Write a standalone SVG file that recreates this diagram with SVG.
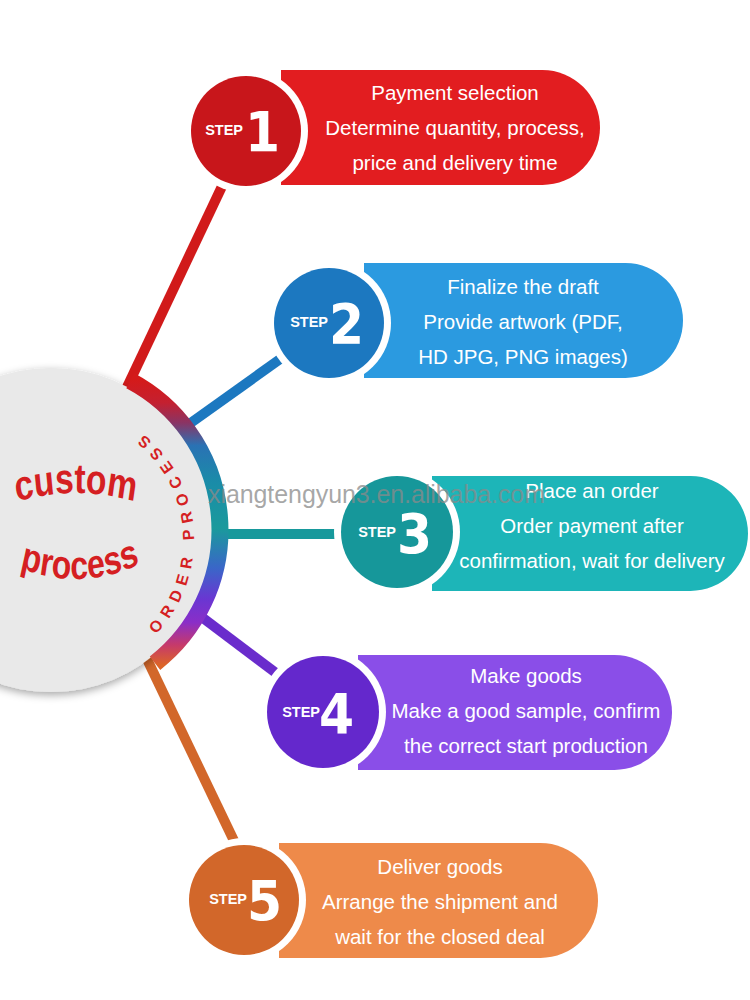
<svg xmlns="http://www.w3.org/2000/svg" width="750" height="1000" viewBox="0 0 750 1000">
<defs>
<style>
.pt{font-family:"Liberation Sans",Arial,sans-serif;font-size:20.5px;fill:#fff;text-anchor:middle}
.st{font-family:"Liberation Sans",Arial,sans-serif;font-size:14.5px;font-weight:bold;fill:#fff;text-anchor:end}
.num{font-family:"DejaVu Sans Condensed","DejaVu Sans",sans-serif;font-size:56px;font-weight:bold;fill:#fff}
.ring{fill:#fff}
.conn{stroke-width:10;fill:none;stroke-linecap:butt}
.big{font-family:"Liberation Sans",Arial,sans-serif;font-weight:bold;fill:#d51f22;text-anchor:middle}
</style>
<linearGradient id="band" gradientUnits="userSpaceOnUse" x1="0" y1="380" x2="0" y2="665">
<stop offset="0" stop-color="#d41a1a"/>
<stop offset="0.08" stop-color="#c42030"/>
<stop offset="0.15" stop-color="#8a3464"/>
<stop offset="0.23" stop-color="#2a72b4"/>
<stop offset="0.36" stop-color="#1a8ca8"/>
<stop offset="0.52" stop-color="#1a9a9c"/>
<stop offset="0.66" stop-color="#3a66c8"/>
<stop offset="0.77" stop-color="#6a36d2"/>
<stop offset="0.85" stop-color="#8a2ec8"/>
<stop offset="0.93" stop-color="#c63a6a"/>
<stop offset="1" stop-color="#dc6428"/>
</linearGradient>
<filter id="sh" x="-20%" y="-20%" width="140%" height="140%">
<feDropShadow dx="0" dy="3" stdDeviation="4" flood-color="#000" flood-opacity="0.35"/>
</filter>
<path id="arcCustom" d="M20,502 Q95,484 170,502"/>
<path id="arcProcess" d="M20,566 Q100,594 180,562"/>
<path id="arcOrder" d="M145.4,644.2 A136,136 0 0 0 126,422.2"/>
</defs>
<rect width="750" height="1000" fill="#fff"/>

<g id="connectors">
<line class="conn" x1="120" y1="402" x2="225" y2="180" stroke="#d11a1a"/>
<line class="conn" x1="178" y1="432" x2="290" y2="352" stroke="#1c78c0"/>
<line class="conn" x1="200" y1="534" x2="390" y2="534" stroke="#17999c" stroke-width="9"/>
<line class="conn" x1="195" y1="612" x2="280" y2="676" stroke="#6a2ccc"/>
<line class="conn" x1="145" y1="655" x2="236" y2="845" stroke="#d2672a"/>
</g>

<g id="center">
<circle cx="51" cy="530" r="162" fill="#e9e9e9" filter="url(#sh)"/>
<path d="M130.3,380.8 A169,169 0 0 1 155.0,663.2" fill="none" stroke="url(#band)" stroke-width="17"/>
<g transform="scale(0.8,1)">
<text class="big" font-size="42"><textPath href="#arcCustom" startOffset="50%">custom</textPath></text>
<text class="big" font-size="40"><textPath href="#arcProcess" startOffset="50%">process</textPath></text>
</g>
<text class="big" font-size="16" letter-spacing="7" style="text-anchor:middle"><textPath href="#arcOrder" startOffset="50%">ORDER PROCESS</textPath></text>
</g>

<g id="step1">
<path d="M281,70 H542.5 A57.5,57.5 0 0 1 542.5,185 H281 Z" fill="#e21d20"/>
<circle class="ring" cx="246" cy="131" r="62"/>
<circle cx="246" cy="131" r="55" fill="#c8161b"/>
<text class="st" x="243" y="135">STEP</text>
<text class="num" x="245" y="151">1</text>
<text class="pt" x="455" y="100">Payment selection</text>
<text class="pt" x="455" y="135">Determine quantity, process,</text>
<text class="pt" x="455" y="170">price and delivery time</text>
</g>

<g id="step2">
<path d="M364,263 H625.5 A57.5,57.5 0 0 1 625.5,378 H364 Z" fill="#2b9ae0"/>
<circle class="ring" cx="329" cy="323" r="62"/>
<circle cx="329" cy="323" r="55" fill="#1c78c0"/>
<text class="st" x="328" y="327">STEP</text>
<text class="num" x="329" y="343">2</text>
<text class="pt" x="523" y="294">Finalize the draft</text>
<text class="pt" x="523" y="329">Provide artwork (PDF,</text>
<text class="pt" x="523" y="364">HD JPG, PNG images)</text>
</g>

<g id="step3">
<path d="M432,476 H690.5 A57.5,57.5 0 0 1 690.5,591 H432 Z" fill="#1db5b8"/>
<circle class="ring" cx="397" cy="532" r="63"/>
<circle cx="397" cy="532" r="56" fill="#16979a"/>
<text class="st" x="396" y="537">STEP</text>
<text class="num" x="397" y="553">3</text>
<text class="pt" x="592" y="498">Place an order</text>
<text class="pt" x="592" y="533">Order payment after</text>
<text class="pt" x="592" y="568">confirmation, wait for delivery</text>
</g>

<g id="step4">
<path d="M358,655 H614.5 A57.5,57.5 0 0 1 614.5,770 H358 Z" fill="#8a4ee8"/>
<circle class="ring" cx="323" cy="712" r="63"/>
<circle cx="323" cy="712" r="56" fill="#6428cc"/>
<text class="st" x="320" y="717">STEP</text>
<text class="num" x="319" y="733">4</text>
<text class="pt" x="526" y="683">Make goods</text>
<text class="pt" x="526" y="718">Make a good sample, confirm</text>
<text class="pt" x="526" y="753">the correct start production</text>
</g>

<g id="step5">
<path d="M279,843 H540.5 A57.5,57.5 0 0 1 540.5,958 H279 Z" fill="#ee8a4a"/>
<circle class="ring" cx="244" cy="900" r="62"/>
<circle cx="244" cy="900" r="55" fill="#d2672a"/>
<text class="st" x="247" y="904">STEP</text>
<text class="num" x="247" y="920">5</text>
<text class="pt" x="440" y="874">Deliver goods</text>
<text class="pt" x="440" y="909">Arrange the shipment and</text>
<text class="pt" x="440" y="944">wait for the closed deal</text>
</g>

<text x="208" y="503" font-family="Liberation Sans,Arial,sans-serif" font-size="25" textLength="337" fill="#8a8a8a" fill-opacity="0.75">xiangtengyun3.en.alibaba.com</text>
</svg>
